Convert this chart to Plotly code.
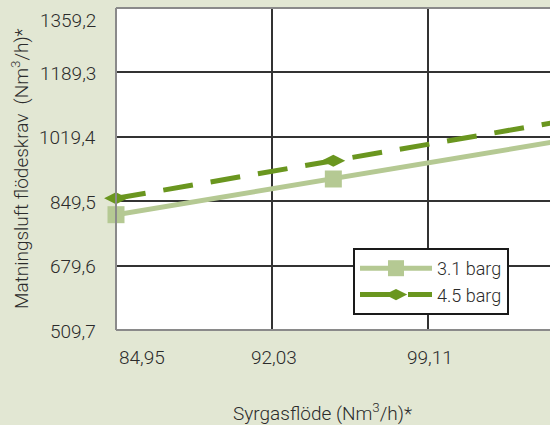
import plotly.graph_objects as go

# Data
x_values = [84.95, 94.81, 104.67]
series_31 = [813.9, 908.1, 1004.5]
series_45 = [857.2, 956.4, 1055.5]
series_names = ["3.1 barg", "4.5 barg"]

x_ticks = [84.95, 92.03, 99.11, 106.19]
x_ticktext = ["84,95", "92,03", "99,11", "106,19"]
y_ticks = [509.7, 679.6, 849.5, 1019.4, 1189.3, 1359.2]
y_ticktext = ["509,7", "679,6", "849,5", "1019,4", "1189,3", "1359,2"]

x_title = "Syrgasflöde (Nm<sup>3</sup>/h)*"
y_title = "Matningsluft flödeskrav  (Nm<sup>3</sup>/h)*"

FONT = "Roboto"
W = 300
TXT = "#2b2b2b"
LIGHT = "#b5c993"
DARK = "#6a961f"
BG = "#e2e7d3"

X_MIN, X_MAX = 84.95, 104.64
Y_MIN, Y_MAX = 509.7, 1359.2

fig = go.Figure()
fig.add_trace(go.Scatter(
    x=x_values, y=series_31, name=series_names[0], mode="lines+markers",
    line=dict(color=LIGHT, width=5),
    marker=dict(symbol="square", size=17, color=LIGHT),
    cliponaxis=False,
))
fig.add_trace(go.Scatter(
    x=x_values, y=series_45, name=series_names[1], mode="lines+markers",
    line=dict(color=DARK, width=5, dash="30px,18px"),
    marker=dict(symbol="diamond-wide", size=17, color=DARK),
    cliponaxis=False,
))

annotations = []
for i, (v, t) in enumerate(zip(x_ticks, x_ticktext)):
    if v > X_MAX:
        continue
    annotations.append(dict(
        x=v, y=0, xref="x", yref="paper", text=t, showarrow=False,
        xanchor="left" if i == 0 else "center", yanchor="top",
        xshift=1 if i == 0 else 2, yshift=-14,
        font=dict(family=FONT, size=19, color=TXT, weight=W)))
for i, (v, t) in enumerate(zip(y_ticks, y_ticktext)):
    top = (i == len(y_ticks) - 1)
    annotations.append(dict(
        x=0, y=v, xref="paper", yref="y", text=t, showarrow=False,
        xanchor="right", yanchor="top" if top else "middle",
        xshift=-18, yshift=1 if top else -1,
        font=dict(family=FONT, size=19, color=TXT, weight=W)))
annotations.append(dict(
    x=(322 - 116) / 434, y=0, xref="paper", yref="paper", text=x_title,
    showarrow=False, xanchor="center", yanchor="middle", yshift=-82,
    font=dict(family=FONT, size=19, color=TXT, weight=W)))
annotations.append(dict(
    x=0, y=0.5, xref="paper", yref="paper", text=y_title, textangle=-90,
    showarrow=False, xanchor="center", yanchor="middle", xshift=-96,
    font=dict(family=FONT, size=19, color=TXT, weight=W)))

shapes = [
    dict(type="line", xref="paper", yref="paper", x0=0, x1=0, y0=0, y1=1,
         line=dict(color="#8a8a8a", width=2)),
    dict(type="line", xref="paper", yref="paper", x0=0, x1=1, y0=0, y1=0,
         line=dict(color="#8a8a8a", width=2)),
    dict(type="line", xref="paper", yref="paper", x0=0, x1=1, y0=1, y1=1,
         line=dict(color="#8a8a8a", width=2)),
]

fig.update_layout(
    width=550, height=425,
    margin=dict(l=116, r=0, t=8, b=95),
    paper_bgcolor=BG, plot_bgcolor="white",
    font=dict(family=FONT, size=19, color=TXT, weight=W),
    showlegend=True,
    legend=dict(
        x=(353 - 116) / 434, y=(330 - 248) / 322, xanchor="left", yanchor="top",
        bgcolor="white", bordercolor="#1a1a1a", borderwidth=2,
        font=dict(family=FONT, size=18, color=TXT, weight=W),
        itemwidth=72, tracegroupgap=0,
    ),
    xaxis=dict(range=[X_MIN, X_MAX], tickvals=x_ticks, showticklabels=False,
               showgrid=True, gridcolor="#333333", gridwidth=2,
               zeroline=False, showline=False, ticks=""),
    yaxis=dict(range=[Y_MIN, Y_MAX], tickvals=y_ticks, showticklabels=False,
               showgrid=True, gridcolor="#333333", gridwidth=2,
               zeroline=False, showline=False, ticks=""),
    annotations=annotations,
    shapes=shapes,
)

fig.write_html(
    "out.html",
    config={"displayModeBar": False},
    post_script="document.body.style.margin='0';document.body.style.overflow='hidden';",
)
